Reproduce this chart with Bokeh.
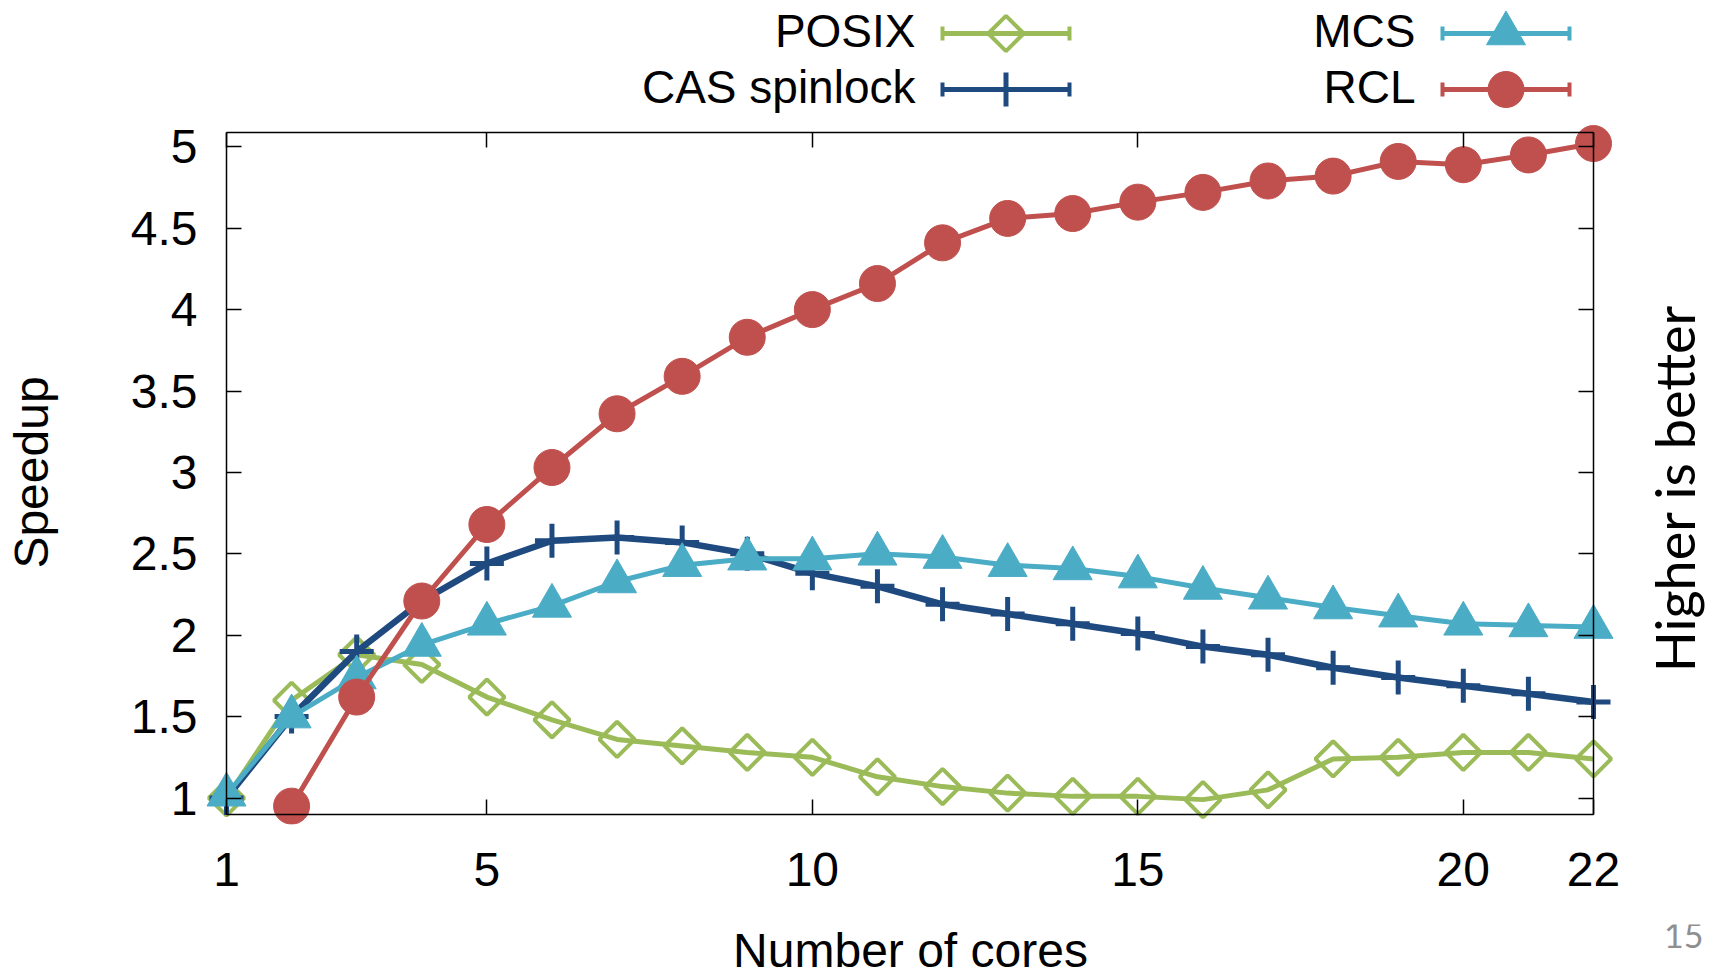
import math
from bokeh.plotting import figure
from bokeh.models import Range1d, LinearAxis, FixedTicker, NumeralTickFormatter, Label
from bokeh.layouts import column
from bokeh.embed import file_html
from bokeh.resources import INLINE
from bokeh.core.properties import value

# ---------------- data ----------------
cores = list(range(1, 23))
posix = [1.00, 1.60, 1.88, 1.82, 1.62, 1.48, 1.36, 1.32, 1.28, 1.25, 1.13,
         1.07, 1.03, 1.01, 1.01, 0.99, 1.05, 1.24, 1.25, 1.28, 1.28, 1.24]
cas = [1.00, 1.50, 1.90, 2.21, 2.44, 2.58, 2.60, 2.57, 2.50, 2.38, 2.30,
       2.19, 2.13, 2.07, 2.01, 1.93, 1.88, 1.80, 1.74, 1.69, 1.64, 1.59]
mcs = [1.02, 1.50, 1.74, 1.94, 2.07, 2.18, 2.33, 2.43, 2.47, 2.47, 2.50,
       2.48, 2.43, 2.41, 2.36, 2.29, 2.23, 2.17, 2.12, 2.07, 2.06, 2.05]
rcl_cores = list(range(2, 23))
rcl = [0.95, 1.62, 2.21, 2.68, 3.03, 3.36, 3.59, 3.83, 4.00, 4.16, 4.41,
       4.56, 4.59, 4.66, 4.72, 4.79, 4.82, 4.91, 4.89, 4.95, 5.02]

series_names = ["POSIX", "CAS spinlock", "MCS", "RCL"]
series_colors = ["#9BBB59", "#1F4A80", "#4BACC6", "#C0504D"]
x_ticks = [1, 5, 10, 15, 20, 22]
y_ticks = [1, 1.5, 2, 2.5, 3, 3.5, 4, 4.5, 5]

FONT = "Liberation Sans"
SLIDE_FONT = "Lato"

# ---------------- geometry (page pixels) ----------------
W = 1720
PAGE_H = 974
LEG_H = 120                 # legend strip: page y 0..120
MAIN_TOP = LEG_H
FRAME_L, FRAME_R = 206, W   # main frame (box plus room for markers)
FRAME_B = 824
BOT_BORDER = 100
MAIN_H = FRAME_B - MAIN_TOP + BOT_BORDER
BOT_TOP = MAIN_TOP + MAIN_H
BOT_H = PAGE_H - BOT_TOP

BOX_L, BOX_R, BOX_T, BOX_B = 226, 1593, 132, 814
PPX = (BOX_R - BOX_L) / 21.0
Y5_PX = 146.3
PPY = 162.8


def fx(px):
    return 1 + (px - BOX_L) / PPX


def fy(py):
    return 5 - (py - Y5_PX) / PPY


y_bot, y_top = fy(BOX_B), fy(BOX_T)

# ---------------- main figure ----------------
p = figure(width=W, height=MAIN_H,
           x_range=Range1d(fx(FRAME_L), fx(FRAME_R)),
           y_range=Range1d(fy(FRAME_B), fy(MAIN_TOP)),
           output_backend="svg", toolbar_location=None,
           x_axis_type=None, y_axis_type=None,
           min_border_left=FRAME_L, min_border_right=0,
           min_border_top=0, min_border_bottom=BOT_BORDER,
           outline_line_color=None, background_fill_color="white",
           border_fill_color="white")

label_style = dict(major_label_text_font=FONT, major_label_text_font_size="48px",
                   major_label_text_color="black")
hidden = dict(axis_line_color=None, major_tick_line_color=None,
              minor_tick_line_color=None, major_tick_in=0, major_tick_out=0,
              minor_tick_in=0, minor_tick_out=0)

# labelled axes (at frame edges, lines hidden)
yax = LinearAxis(ticker=FixedTicker(ticks=y_ticks),
                 formatter=NumeralTickFormatter(format="0.[0]"),
                 major_label_standoff=9,
                 axis_label="Speedup", axis_label_standoff=70,
                 axis_label_text_font=FONT, axis_label_text_font_size="48px",
                 axis_label_text_font_style="normal", axis_label_text_color="black",
                 **label_style, **hidden)
p.add_layout(yax, "left")

xax = LinearAxis(ticker=FixedTicker(ticks=x_ticks),
                 formatter=NumeralTickFormatter(format="0"),
                 major_label_standoff=28, **label_style, **hidden)
p.add_layout(xax, "below")

# box edges with inward ticks (fixed location, no labels)
box_style = dict(axis_line_color="black", axis_line_width=1.5,
                 major_tick_line_color="black", major_tick_line_width=1.5,
                 minor_tick_line_color=None, minor_tick_in=0, minor_tick_out=0,
                 major_tick_in=15, major_tick_out=0, major_label_standoff=0,
                 major_label_text_font_size="0px", major_label_text_color=None,
                 major_label_text_alpha=0)
p.add_layout(LinearAxis(fixed_location=1, bounds=(y_bot, y_top),
                        ticker=FixedTicker(ticks=y_ticks), **box_style), "left")
p.add_layout(LinearAxis(fixed_location=22, bounds=(y_bot, y_top),
                        ticker=FixedTicker(ticks=y_ticks), **box_style), "right")
p.add_layout(LinearAxis(fixed_location=y_bot, bounds=(1, 22),
                        ticker=FixedTicker(ticks=x_ticks), **box_style), "below")
p.add_layout(LinearAxis(fixed_location=y_top, bounds=(1, 22),
                        ticker=FixedTicker(ticks=x_ticks), **box_style), "above")

# series
xs = [cores, cores, cores, rcl_cores]
ys = [posix, cas, mcs, rcl]
lw = [5, 6.5, 5, 5]


def draw_marker(fig, i, x, y):
    col = series_colors[i]
    if i == 0:
        fig.scatter(x, y, marker="square", angle=math.pi / 4, size=25,
                    fill_color=None, line_color=col, line_width=4)
    elif i == 1:
        fig.scatter(x, y, marker="cross", size=34, line_color=col, line_width=5)
    elif i == 2:
        fig.scatter(x, y, marker="triangle", size=39, fill_color=col, line_color=col)
    else:
        fig.scatter(x, y, marker="circle", size=36, fill_color=col, line_color=col)


for i in range(4):
    p.line(xs[i], ys[i], line_color=series_colors[i], line_width=lw[i])
    draw_marker(p, i, xs[i], ys[i])

p.add_layout(Label(x=fx(1674), y=fy(488), text="Higher is better", angle=math.pi / 2,
                   text_align="center", text_baseline="alphabetic",
                   text_font=SLIDE_FONT, text_font_size="54px", text_color="black"))

# ---------------- legend strip ----------------
leg = figure(width=W, height=LEG_H, x_range=Range1d(FRAME_L, FRAME_R),
             y_range=Range1d(LEG_H, 0),
             output_backend="svg", toolbar_location=None,
             x_axis_type=None, y_axis_type=None, min_border=0,
             outline_line_color=None, border_fill_color="white")

text_right = [915, 915, 1415, 1415]
text_y = [30, 86, 30, 86]
row_y = [33, 89, 33, 89]
x0 = [t + 27 for t in text_right]
x1 = [t + 154 for t in text_right]
xm = [(a + b) / 2 for a, b in zip(x0, x1)]

leg.text(x=text_right, y=text_y, text=series_names, text_align="right",
         text_baseline="middle", text_font=value(FONT), text_font_size="46px",
         text_color="black")
leg.segment(x0=x0, y0=row_y, x1=x1, y1=row_y, line_color=series_colors, line_width=5)
leg.segment(x0=x0, y0=[y - 7 for y in row_y], x1=x0, y1=[y + 7 for y in row_y],
            line_color=series_colors, line_width=4)
leg.segment(x0=x1, y0=[y - 7 for y in row_y], x1=x1, y1=[y + 7 for y in row_y],
            line_color=series_colors, line_width=4)
for i in range(4):
    draw_marker(leg, i, [xm[i]], [row_y[i]])

# ---------------- bottom strip ----------------
bot = figure(width=W, height=BOT_H, x_range=Range1d(FRAME_L, FRAME_R),
             y_range=Range1d(PAGE_H, BOT_TOP),
             output_backend="svg", toolbar_location=None,
             x_axis_type=None, y_axis_type=None, min_border=0,
             outline_line_color=None, border_fill_color="white")
bot.text(x=[910], y=[950], text=["Number of cores"], text_align="center",
         text_baseline="middle", text_font=value(FONT), text_font_size="48px",
         text_color="black")
bot.text(x=[1703], y=[935], text=["15"], text_align="right",
         text_baseline="middle", text_font=value(SLIDE_FONT), text_font_size="34px",
         text_color="#8f8f8f")

layout = column(leg, p, bot, spacing=0)
open("out.html", "w").write(file_html(layout, INLINE))
